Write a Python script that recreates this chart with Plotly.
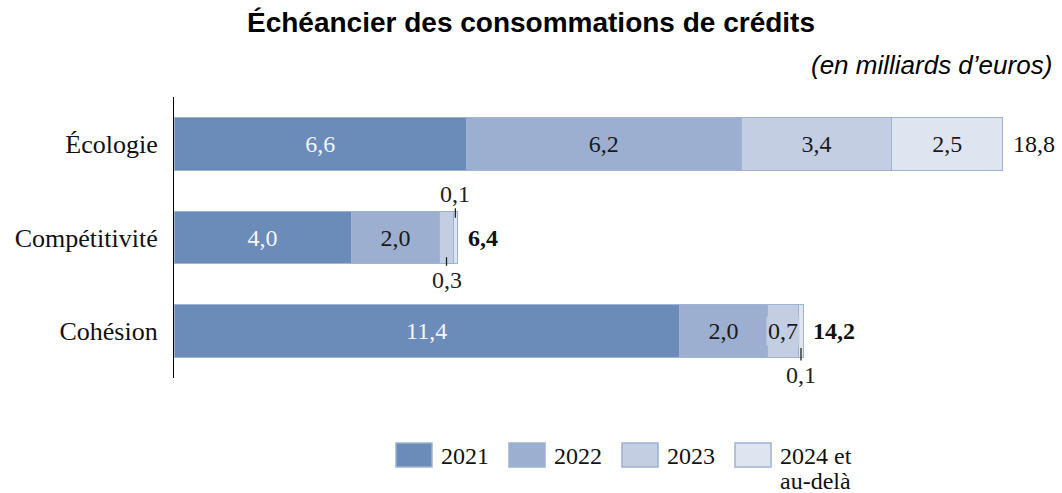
import plotly.graph_objects as go

categories = ["Écologie", "Compétitivité", "Cohésion"]
series_names = ["2021", "2022", "2023", "2024 et", "au-delà"]
v2021 = [6.6, 4.0, 11.4]
v2022 = [6.2, 2.0, 2.0]
v2023 = [3.4, 0.3, 0.7]
v2024 = [2.5, 0.1, 0.1]
totals = [18.8, 6.4, 14.2]
totals_bold = [False, True, True]

colors = ["#6b8bb9", "#9cafd0", "#c3cee3", "#dfe5f0"]
outline = "#9fb3d3"
text_colors = ["#f4f6fa", "#1a1a1a", "#1a1a1a", "#1a1a1a"]
SERIF = "Liberation Serif"
FS = 24

def fmt(v):
    return f"{v:.1f}".replace(".", ",")

W, H = 1062, 493
ML, MR, MT, MB = 174, 4, 97, 115
PW, PH = W - ML - MR, H - MT - MB

def px_x(px):
    return (px - ML) / PW

def px_y(py):
    return (H - MB - py) / PH

ypos = list(range(len(categories)))
fig = go.Figure()
all_series = [v2021, v2022, v2023, v2024]
for name, vals, col, tc in zip(series_names, all_series, colors, text_colors):
    fig.add_trace(go.Bar(
        y=ypos, x=vals, orientation="h", name=name,
        marker=dict(color=col, line=dict(color=outline, width=1)),
        width=0.56,
        text=[fmt(v) if v >= 1 else "" for v in vals],
        textposition="inside", insidetextanchor="middle",
        constraintext="none",
        textfont=dict(family=SERIF, size=FS, color=tc),
        showlegend=False, hoverinfo="skip",
    ))

# medium segments: label with background box (overflows the segment)
for k, vals in enumerate(all_series):
    for i in ypos:
        v = vals[i]
        if 0.5 <= v < 1:
            start = sum(all_series[j][i] for j in range(k))
            fig.add_annotation(x=start + v / 2, y=i, text=fmt(v), showarrow=False,
                               bgcolor=colors[k], borderpad=1,
                               font=dict(family=SERIF, size=FS, color=text_colors[k]))

# totals
for i in ypos:
    end = sum(s[i] for s in all_series)
    t = fmt(totals[i])
    if totals_bold[i]:
        t = f"<b>{t}</b>"
    fig.add_annotation(x=end, y=i, text=t, showarrow=False,
                       xanchor="left", xshift=8, font=dict(family=SERIF, size=FS, color="#111"))

# small segment callouts
def callout(i, start, val, dy_data, ay):
    fig.add_annotation(x=start + val / 2, y=i + dy_data, text=fmt(val), showarrow=True,
                       arrowhead=0, arrowwidth=1.3, arrowcolor="#222", ax=0, ay=ay,
                       font=dict(family=SERIF, size=FS, color="#222"))

callout(1, v2021[1] + v2022[1] + v2023[1], v2024[1], -0.21, -24)
callout(1, v2021[1] + v2022[1], v2023[1], 0.21, 23)
callout(2, v2021[2] + v2022[2] + v2023[2], v2024[2], 0.18, 27)

# title & subtitle
fig.add_annotation(xref="paper", yref="paper", x=px_x(W / 2), y=px_y(23),
                   text="<b>Échéancier des consommations de crédits</b>", showarrow=False,
                   xanchor="center", yanchor="middle",
                   font=dict(family="Liberation Sans", size=28, color="black"))
fig.add_annotation(xref="paper", yref="paper", x=px_x(1054), y=px_y(65),
                   text="<i>(en milliards d’euros)</i>", showarrow=False,
                   xanchor="right", yanchor="middle",
                   font=dict(family="Liberation Sans", size=26, color="black"))

# manual legend
leg_x0 = 396
for k, col in enumerate(colors):
    x0 = leg_x0 + k * 113
    fig.add_shape(type="rect", xref="paper", yref="paper",
                  x0=px_x(x0), x1=px_x(x0 + 36), y0=px_y(467), y1=px_y(443),
                  fillcolor=col, line=dict(color=outline, width=1.5))
    fig.add_annotation(xref="paper", yref="paper", x=px_x(x0 + 43), y=px_y(456),
                       text=series_names[k], showarrow=False, xanchor="left", yanchor="middle",
                       font=dict(family=SERIF, size=FS, color="#111"))
fig.add_annotation(xref="paper", yref="paper", x=px_x(leg_x0 + 3 * 113 + 43), y=px_y(481),
                   text=series_names[4], showarrow=False, xanchor="left", yanchor="middle",
                   font=dict(family=SERIF, size=FS, color="#111"))

fig.update_layout(
    width=W, height=H, barmode="stack",
    margin=dict(l=ML, r=MR, t=MT, b=MB),
    plot_bgcolor="white", paper_bgcolor="white",
    xaxis=dict(range=[0, 19.95], visible=False),
    yaxis=dict(range=[2.5, -0.5], tickvals=ypos, ticktext=categories,
               showline=True, linecolor="black", linewidth=1.2, ticks="",
               showgrid=False, zeroline=False, ticklabelstandoff=10,
               tickfont=dict(family=SERIF, size=26, color="#111")),
)

fig.write_html("out.html", config={"displayModeBar": False},
               post_script="document.body.style.margin='0';")
